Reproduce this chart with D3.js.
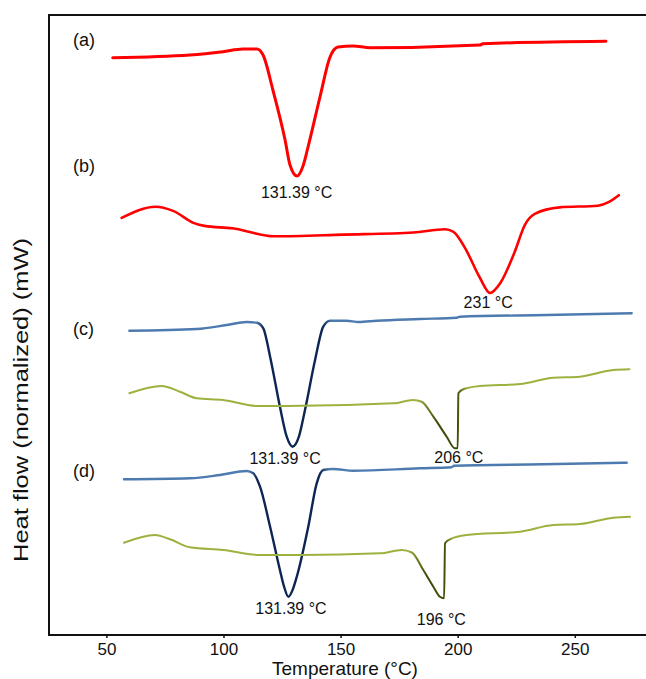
<!DOCTYPE html>
<html>
<head>
<meta charset="utf-8">
<script src="https://cdn.jsdelivr.net/npm/d3@7"></script>
<style>
  body { margin: 0; background: #fff; }
  text { font-family: "Liberation Sans", Arial, Helvetica, sans-serif; fill: #111; }
</style>
</head>
<body>
<div id="chart"></div>
<script>
// 1: DATA (temperature in °C, heat flow in normalized units, traces are stacked)
const tickTemps = [50, 100, 150, 200, 250];

// (a) red trace
const curveA = [[52.7,57.73],[85.7,58.0],[99.8,58.33],[108.3,58.6],[114.3,58.6],[116.9,58.0],[121.1,54.5],
  [126.3,49.5],[128.4,47.0],[131.4,45.9],[134.1,47.0],[136.1,48.8],[141.2,53.8],[145.5,57.8],[148.9,58.8],
  [155.3,58.9],[162.6,58.73],[209.5,59.0],[210.8,59.13],[263.3,59.37]];

// (b) red trace
const curveB = [[56.5,41.71],[71.1,42.83],[78.5,42.41],[87.4,41.19],[91.9,40.91],[103.8,40.67],[121.6,39.87],
  [151.3,40.04],[181.1,40.25],[194.5,40.57],[198.2,40.32],[203.4,38.58],[209.3,35.8],[213.8,34.2],[218.2,35.2],
  [224.2,38.23],[228.7,41.02],[233.1,42.13],[243.5,42.76],[259.9,42.93],[264.4,43.28],[268.8,43.98]];

// (c) blue trace
const curveC1 = [[59.8,30.43],[88.6,30.6],[101.4,31.0],[109.9,31.3],[114.2,31.23],[117.0,30.67],[119.9,27.83],
  [124.1,22.83],[127.0,19.83],[129.5,18.83],[132.2,19.83],[134.8,22.5],[139.1,27.5],[142.6,30.83],[145.5,31.43],
  [152.6,31.43],[157.6,31.3],[165.4,31.43],[183.9,31.6],[199.6,31.73],[201.0,31.83],[238.0,32.0],[274.3,32.17]];

// (c) green trace
const curveC2 = [[59.8,24.17],[73.6,24.9],[81.4,24.33],[88.6,23.67],[99.9,23.5],[114.2,22.9],[127.0,22.9],
  [172.5,23.17],[181.0,23.5],[184.6,23.33],[189.6,21.83],[195.3,19.83],[198.8,18.67],[200.0,18.67],[200.3,24.17],
  [202.4,24.57],[209.5,24.9],[226.6,25.1],[240.8,25.73],[252.2,25.83],[266.4,26.5],[273.3,26.57]];

// (d) blue trace
const curveD1 = [[57.5,15.57],[85.7,15.67],[98.5,16.0],[109.9,16.4],[112.7,16.17],[115.6,14.83],[119.9,10.83],
  [124.1,6.5],[125.8,4.9],[127.7,3.83],[129.5,4.5],[131.3,5.83],[136.2,10.83],[139.8,15.17],[142.6,16.5],
  [146.9,16.6],[155.4,16.43],[183.9,16.67],[197.4,16.77],[198.4,16.93],[236.6,17.07],[272.2,17.23]];

// (d) green trace
const curveD2 = [[57.5,9.23],[70.8,10.0],[77.2,9.57],[85.7,8.77],[99.9,8.5],[115.6,8.0],[132.7,8.0],[166.8,8.17],
  [176.1,8.5],[180.4,8.25],[185.3,6.5],[189.6,4.83],[192.4,3.83],[194.2,3.67],[194.6,9.17],[196.7,9.57],
  [203.8,10.0],[226.6,10.33],[240.8,11.0],[252.2,11.1],[266.4,11.73],[273.6,11.83]];

// trace letters and peak notes
const traceLabels = [["(a)", 58.9], ["(b)", 46.3], ["(c)", 30.0], ["(d)", 15.8]];
const peakNotes = [
  { text: "131.39 °C", t: 131.2, hf: 43.7 },
  { text: "231 °C", t: 213.0, hf: 32.7 },
  { text: "131.39 °C", t: 126.3, hf: 17.1 },
  { text: "206 °C", t: 200.5, hf: 17.2 },
  { text: "131.39 °C", t: 128.8, hf: 2.1 },
  { text: "196 °C", t: 193.0, hf: 1.0 }
];

// 2: SVG
const margin = { top: 15, right: 0, bottom: 44, left: 49 };
const width = 646 - margin.left - margin.right;
const height = 679 - margin.top - margin.bottom;

const svgRoot = d3.select("#chart").append("svg")
    .attr("width", width + margin.left + margin.right)
    .attr("height", height + margin.top + margin.bottom);
const svg = svgRoot.append("g")
    .attr("transform", `translate(${margin.left},${margin.top})`);

// 3: SCALES
const xScale = d3.scaleLinear().domain([25.5, 280.4]).range([0, width]);
const yScale = d3.scaleLinear().domain([0, 62]).range([height, 0]);

const line = d3.line()
    .x(d => xScale(d[0]))
    .y(d => yScale(d[1]))
    .curve(d3.curveMonotoneX);

// gradients: darker stroke through the melting peaks
const defs = svgRoot.append("defs");
function shade(id, t0, t1, light, dark, stops) {
    const g = defs.append("linearGradient")
        .attr("id", id)
        .attr("gradientUnits", "userSpaceOnUse")
        .attr("x1", xScale(t0)).attr("x2", xScale(t1))
        .attr("y1", 0).attr("y2", 0);
    g.append("stop").attr("offset", 0).attr("stop-color", light);
    g.append("stop").attr("offset", stops[0]).attr("stop-color", dark);
    g.append("stop").attr("offset", stops[1]).attr("stop-color", dark);
    g.append("stop").attr("offset", 1).attr("stop-color", light);
}
shade("gC1", 114, 146, "#4d7bb0", "#0c2552", [0.1, 0.88]);
shade("gD1", 111, 145, "#4d7bb0", "#0c2552", [0.1, 0.88]);
shade("gC2", 183, 204, "#9bb23e", "#3e4c08", [0.4, 0.8]);
shade("gD2", 179, 198, "#9bb23e", "#3e4c08", [0.4, 0.8]);

// 4: TRACES
const traces = [
    { data: curveA, stroke: "#ff0000", w: 3 },
    { data: curveB, stroke: "#ff0000", w: 2.6 },
    { data: curveC1, stroke: "url(#gC1)", w: 2.4 },
    { data: curveC2, stroke: "url(#gC2)", w: 2 },
    { data: curveD1, stroke: "url(#gD1)", w: 2.4 },
    { data: curveD2, stroke: "url(#gD2)", w: 2 }
];
traces.forEach(tr => {
    svg.append("path")
        .datum(tr.data)
        .attr("fill", "none")
        .attr("stroke", tr.stroke)
        .attr("stroke-width", tr.w)
        .attr("stroke-linejoin", "round")
        .attr("stroke-linecap", "round")
        .attr("d", line);
});

// 5: AXIS + FRAME
const xAxis = svg.append("g")
    .attr("transform", `translate(0,${height})`)
    .call(d3.axisBottom(xScale).tickValues(tickTemps).tickSize(3).tickPadding(5));
xAxis.select(".domain").remove();
xAxis.selectAll("line").attr("stroke", "#111").attr("stroke-width", 1.5);
xAxis.selectAll("text").attr("font-size", "17px").attr("fill", "#111")
    .style("font-family", "'Liberation Sans', Arial, sans-serif");

svg.append("path")
    .attr("d", `M${width},0H0V${height}H${width}`)
    .attr("fill", "none")
    .attr("stroke", "#111")
    .attr("stroke-width", 2);

// 6: LABELS
svg.append("text")
    .attr("x", 296)
    .attr("y", height + 40)
    .attr("text-anchor", "middle")
    .attr("font-size", "19px")
    .text("Temperature (°C)");

svg.append("text")
    .attr("transform", "rotate(-90)")
    .attr("x", -385)
    .attr("y", -21)
    .attr("text-anchor", "middle")
    .attr("font-size", "20px")
    .attr("textLength", 324)
    .attr("lengthAdjust", "spacingAndGlyphs")
    .text("Heat flow (normalized) (mW)");

svg.selectAll(".trace-label")
    .data(traceLabels)
    .join("text")
    .attr("class", "trace-label")
    .attr("x", 24)
    .attr("y", d => yScale(d[1]))
    .attr("font-size", "18px")
    .text(d => d[0]);

svg.selectAll(".peak-note")
    .data(peakNotes)
    .join("text")
    .attr("class", "peak-note")
    .attr("x", d => xScale(d.t))
    .attr("y", d => yScale(d.hf))
    .attr("text-anchor", "middle")
    .attr("font-size", "16px")
    .text(d => d.text);
</script>
</body>
</html>
